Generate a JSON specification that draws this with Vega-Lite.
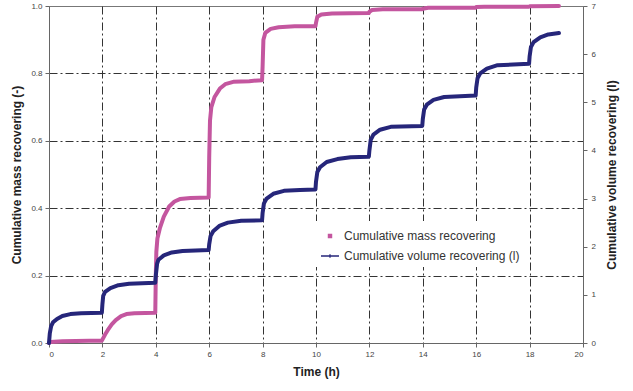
{
  "$schema": "https://vega.github.io/schema/vega-lite/v6.json",
  "width": 534,
  "height": 337,
  "autosize": "none",
  "padding": {"left": 49, "top": 6, "right": 50, "bottom": 48},
  "background": "white",
  "config": {"view": {"stroke": "#777", "strokeWidth": 1}, "font": "Liberation Sans"},
  "datasets": {
    "mass": [
      {"t": 0, "m": 0}, {"t": 0.05, "m": 0.003}, {"t": 0.5, "m": 0.005}, {"t": 1.0, "m": 0.006}, {"t": 1.5, "m": 0.007}, {"t": 1.98, "m": 0.007},
      {"t": 2.0, "m": 0.01}, {"t": 2.1, "m": 0.025}, {"t": 2.2, "m": 0.038}, {"t": 2.35, "m": 0.055}, {"t": 2.5, "m": 0.068}, {"t": 2.7, "m": 0.08}, {"t": 2.9, "m": 0.086}, {"t": 3.2, "m": 0.088}, {"t": 3.6, "m": 0.089}, {"t": 3.98, "m": 0.09},
      {"t": 4.0, "m": 0.2}, {"t": 4.02, "m": 0.27}, {"t": 4.06, "m": 0.31}, {"t": 4.15, "m": 0.34}, {"t": 4.3, "m": 0.375}, {"t": 4.5, "m": 0.405}, {"t": 4.7, "m": 0.42}, {"t": 4.9, "m": 0.427}, {"t": 5.3, "m": 0.43}, {"t": 5.98, "m": 0.432},
      {"t": 6.0, "m": 0.55}, {"t": 6.03, "m": 0.66}, {"t": 6.08, "m": 0.7}, {"t": 6.2, "m": 0.73}, {"t": 6.4, "m": 0.755}, {"t": 6.6, "m": 0.768}, {"t": 6.9, "m": 0.775}, {"t": 7.5, "m": 0.777}, {"t": 7.98, "m": 0.78},
      {"t": 8.0, "m": 0.82}, {"t": 8.03, "m": 0.9}, {"t": 8.1, "m": 0.92}, {"t": 8.3, "m": 0.932}, {"t": 8.6, "m": 0.937}, {"t": 9.2, "m": 0.94}, {"t": 9.98, "m": 0.94},
      {"t": 10.0, "m": 0.95}, {"t": 10.05, "m": 0.968}, {"t": 10.2, "m": 0.975}, {"t": 10.6, "m": 0.978}, {"t": 11.98, "m": 0.979},
      {"t": 12.0, "m": 0.983}, {"t": 12.1, "m": 0.988}, {"t": 12.5, "m": 0.99}, {"t": 13.98, "m": 0.99},
      {"t": 14.0, "m": 0.992}, {"t": 14.2, "m": 0.995}, {"t": 15.98, "m": 0.995},
      {"t": 16.0, "m": 0.997}, {"t": 16.3, "m": 0.998}, {"t": 17.98, "m": 0.998},
      {"t": 18.0, "m": 0.999}, {"t": 19.1, "m": 1.0}
    ],
    "vol": [
      {"t": 0, "v": 0}, {"t": 0.03, "v": 0.2}, {"t": 0.08, "v": 0.35}, {"t": 0.15, "v": 0.43}, {"t": 0.3, "v": 0.5}, {"t": 0.5, "v": 0.56}, {"t": 0.8, "v": 0.6}, {"t": 1.2, "v": 0.62}, {"t": 1.98, "v": 0.63},
      {"t": 2.0, "v": 0.8}, {"t": 2.03, "v": 0.98}, {"t": 2.1, "v": 1.06}, {"t": 2.3, "v": 1.14}, {"t": 2.6, "v": 1.2}, {"t": 3.0, "v": 1.23}, {"t": 3.98, "v": 1.25},
      {"t": 4.0, "v": 1.4}, {"t": 4.05, "v": 1.65}, {"t": 4.1, "v": 1.73}, {"t": 4.3, "v": 1.82}, {"t": 4.6, "v": 1.88}, {"t": 5.0, "v": 1.91}, {"t": 5.98, "v": 1.93},
      {"t": 6.0, "v": 2.05}, {"t": 6.05, "v": 2.22}, {"t": 6.15, "v": 2.32}, {"t": 6.4, "v": 2.44}, {"t": 6.7, "v": 2.5}, {"t": 7.2, "v": 2.54}, {"t": 7.98, "v": 2.55},
      {"t": 8.0, "v": 2.7}, {"t": 8.05, "v": 2.9}, {"t": 8.15, "v": 3.0}, {"t": 8.4, "v": 3.1}, {"t": 8.8, "v": 3.16}, {"t": 9.4, "v": 3.18}, {"t": 9.98, "v": 3.19},
      {"t": 10.0, "v": 3.35}, {"t": 10.05, "v": 3.55}, {"t": 10.15, "v": 3.65}, {"t": 10.4, "v": 3.76}, {"t": 10.8, "v": 3.82}, {"t": 11.3, "v": 3.86}, {"t": 11.98, "v": 3.87},
      {"t": 12.0, "v": 4.0}, {"t": 12.05, "v": 4.22}, {"t": 12.15, "v": 4.33}, {"t": 12.4, "v": 4.43}, {"t": 12.8, "v": 4.49}, {"t": 13.98, "v": 4.51},
      {"t": 14.0, "v": 4.65}, {"t": 14.05, "v": 4.85}, {"t": 14.15, "v": 4.95}, {"t": 14.4, "v": 5.05}, {"t": 14.8, "v": 5.11}, {"t": 15.98, "v": 5.14},
      {"t": 16.0, "v": 5.3}, {"t": 16.05, "v": 5.5}, {"t": 16.15, "v": 5.6}, {"t": 16.4, "v": 5.7}, {"t": 16.8, "v": 5.77}, {"t": 17.98, "v": 5.8},
      {"t": 18.0, "v": 5.95}, {"t": 18.05, "v": 6.15}, {"t": 18.15, "v": 6.25}, {"t": 18.4, "v": 6.35}, {"t": 18.7, "v": 6.41}, {"t": 19.1, "v": 6.44}
    ]
  },
  "layer": [
    {
      "data": {"name": "mass"},
      "mark": {"type": "line", "strokeWidth": 4, "strokeCap": "round", "strokeJoin": "round"},
      "encoding": {
        "x": {
          "field": "t", "type": "quantitative",
          "scale": {"domain": [0, 20], "nice": false},
          "axis": {
            "values": [0, 2, 4, 6, 8, 10, 12, 14, 16, 18, 20],
            "title": "Time (h)", "titleFontSize": 12, "titleFontWeight": "bold", "titleColor": "#222", "titlePadding": 8,
            "labelFontSize": 8, "labelColor": "#444", "labelPadding": 3,
            "domainColor": "#666", "tickColor": "#666", "tickSize": 4,
            "grid": true, "gridColor": "#333", "gridDash": [8, 3, 2, 3], "gridWidth": 1,
            "gridOpacity": {"condition": {"test": "datum.value > 0 && datum.value < 20", "value": 1}, "value": 0}
          }
        },
        "y": {
          "field": "m", "type": "quantitative",
          "scale": {"domain": [0, 1], "nice": false},
          "axis": {
            "values": [0, 0.2, 0.4, 0.6, 0.8, 1.0], "format": ".1f",
            "title": "Cumulative mass recovering (-)", "titleFontSize": 12, "titleFontWeight": "bold", "titleColor": "#222", "titlePadding": 7,
            "labelFontSize": 8, "labelColor": "#444", "labelPadding": 3,
            "domainColor": "#666", "tickColor": "#666", "tickSize": 4,
            "grid": true, "gridColor": "#333", "gridDash": [8, 3, 2, 3], "gridWidth": 1,
            "gridOpacity": {"condition": {"test": "datum.value > 0 && datum.value < 1", "value": 1}, "value": 0}
          }
        },
        "color": {
          "datum": "Cumulative mass recovering",
          "scale": {"domain": ["Cumulative mass recovering", "Cumulative volume recovering (l)"], "range": ["#c4569f", "#26267a"]},
          "legend": {
            "title": null, "orient": "none", "legendX": 266, "legendY": 215,
            "fillColor": "white", "padding": 5,
            "labelFontSize": 12, "labelColor": "#333", "labelFont": "Liberation Sans", "labelOffset": 4, "labelLimit": 400,
            "rowPadding": 4,
            "encode": {
              "symbols": {
                "update": {
                  "shape": {"signal": "datum.value === 'Cumulative mass recovering' ? 'square' : 'M-1,0L1,0M0,-0.2L0,0.2'"},
                  "size": {"signal": "datum.value === 'Cumulative mass recovering' ? 10 : 324"},
                  "fill": {"signal": "datum.value === 'Cumulative mass recovering' ? '#c4569f' : 'transparent'"},
                  "stroke": {"signal": "datum.value === 'Cumulative mass recovering' ? 'transparent' : '#26267a'"},
                  "strokeWidth": {"value": 1.3},
                  "opacity": {"value": 1}
                }
              }
            }
          }
        }
      }
    },
    {
      "data": {"name": "vol"},
      "mark": {"type": "line", "strokeWidth": 4, "strokeCap": "round", "strokeJoin": "round"},
      "encoding": {
        "x": {"field": "t", "type": "quantitative"},
        "y": {
          "field": "v", "type": "quantitative",
          "scale": {"domain": [0, 7], "nice": false},
          "axis": {
            "orient": "right",
            "values": [0, 1, 2, 3, 4, 5, 6, 7],
            "title": "Cumulative volume recovering (l)", "titleFontSize": 12, "titleFontWeight": "bold", "titleColor": "#222", "titlePadding": 11, "titleAngle": 270, "titleBaseline": "top",
            "labelFontSize": 8, "labelColor": "#444", "labelPadding": 4,
            "domainColor": "#666", "tickColor": "#666", "tickSize": 4,
            "grid": false
          }
        },
        "color": {"datum": "Cumulative volume recovering (l)"}
      }
    }
  ],
  "resolve": {"scale": {"y": "independent"}}
}
